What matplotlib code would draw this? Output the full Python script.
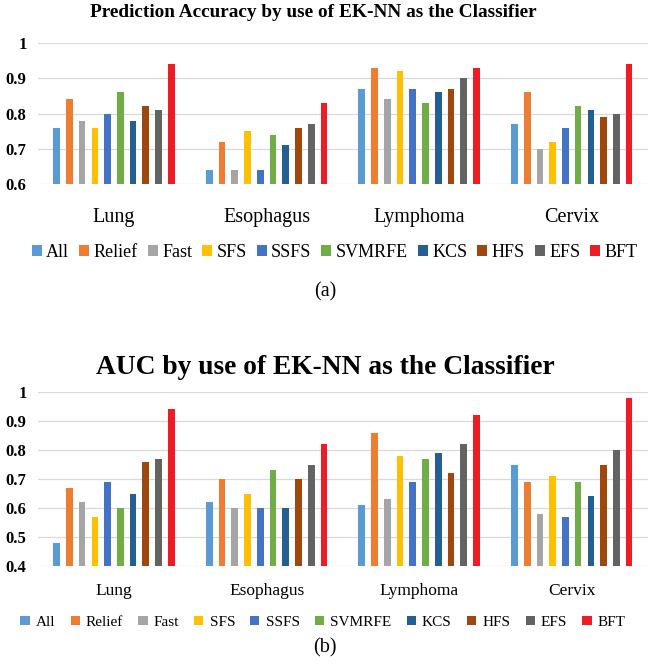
import numpy as np
import matplotlib
matplotlib.use("Agg")
import matplotlib.pyplot as plt
from matplotlib.patches import Patch

plt.rcParams["font.family"] = ["Liberation Serif", "DejaVu Serif"]

# Datos
categories = ["Lung", "Esophagus", "Lymphoma", "Cervix"]
methods = ["All", "Relief", "Fast", "SFS", "SSFS", "SVMRFE", "KCS", "HFS", "EFS", "BFT"]
colors = ["#5B9BD5", "#ED7D31", "#A5A5A5", "#FFC000", "#4472C4",
          "#70AD47", "#255E91", "#9E480E", "#636363", "#EE1C25"]

# (a) Prediction accuracy, one row per category, one value per method
acc_lung = [0.76, 0.84, 0.78, 0.76, 0.80, 0.86, 0.78, 0.82, 0.81, 0.94]
acc_esophagus = [0.64, 0.72, 0.64, 0.75, 0.64, 0.74, 0.71, 0.76, 0.77, 0.83]
acc_lymphoma = [0.87, 0.93, 0.84, 0.92, 0.87, 0.83, 0.86, 0.87, 0.90, 0.93]
acc_cervix = [0.77, 0.86, 0.70, 0.72, 0.76, 0.82, 0.81, 0.79, 0.80, 0.94]

# (b) AUC
auc_lung = [0.48, 0.67, 0.62, 0.57, 0.69, 0.60, 0.65, 0.76, 0.77, 0.94]
auc_esophagus = [0.62, 0.70, 0.60, 0.65, 0.60, 0.73, 0.60, 0.70, 0.75, 0.82]
auc_lymphoma = [0.61, 0.86, 0.63, 0.78, 0.69, 0.77, 0.79, 0.72, 0.82, 0.92]
auc_cervix = [0.75, 0.69, 0.58, 0.71, 0.57, 0.69, 0.64, 0.75, 0.80, 0.98]

acc_ticks = [0.6, 0.7, 0.8, 0.9, 1.0]
acc_labels = ["0.6", "0.7", "0.8", "0.9", "1"]
auc_ticks = [0.4, 0.5, 0.6, 0.7, 0.8, 0.9, 1.0]
auc_labels = ["0.4", "0.5", "0.6", "0.7", "0.8", "0.9", "1"]


def draw_panel(ax, data, ymin, ticks, tick_labels, cat_size, cat_pad):
    """Dibuja un panel de barras agrupadas estilo Excel."""
    data = np.array(data)
    x = np.arange(len(categories))
    pitch = 0.0835
    width = 0.044
    for j, (name, color) in enumerate(zip(methods, colors)):
        pos = x + (j - 4.5) * pitch
        vals = data[:, j]
        ax.bar(pos, vals - ymin, width, bottom=ymin, color=color, zorder=3)

    ax.set_xlim(-0.5, len(categories) - 0.5)
    ax.set_ylim(ymin, 1.0)
    ax.set_yticks(ticks)
    ax.set_yticklabels(tick_labels, fontweight="bold", fontsize=12)
    ax.set_xticks(x)
    ax.set_xticklabels(categories, fontsize=cat_size)
    ax.tick_params(axis="x", length=0, pad=cat_pad)
    ax.tick_params(axis="y", length=0, pad=8)
    for s in ax.spines.values():
        s.set_visible(False)
    ax.grid(axis="y", color="#D9D9D9", linewidth=0.9, zorder=0)
    ax.set_axisbelow(True)


fig = plt.figure(figsize=(6.5, 6.64), dpi=100)

# Panel (a)
ax1 = fig.add_axes([0.058, 0.7229, 0.939, 0.2123])
draw_panel(ax1, [acc_lung, acc_esophagus, acc_lymphoma, acc_cervix],
           0.6, acc_ticks, acc_labels, 14.5, 17)
fig.text(0.482, 0.981, "Prediction Accuracy by use of EK-NN as the Classifier",
         ha="center", va="center", fontsize=13.9, fontweight="bold")

# Panel (b)
ax2 = fig.add_axes([0.058, 0.1476, 0.939, 0.262])
draw_panel(ax2, [auc_lung, auc_esophagus, auc_lymphoma, auc_cervix],
           0.4, auc_ticks, auc_labels, 12.5, 12)
fig.text(0.5, 0.446, "AUC by use of EK-NN as the Classifier",
         ha="center", va="center", fontsize=19.8, fontweight="bold")

# Leyendas
handles = [Patch(facecolor=c, label=m) for m, c in zip(methods, colors)]
fig.legend(handles=handles, loc="center", bbox_to_anchor=(0.515, 0.620), ncol=10,
           frameon=False, fontsize=13, handlelength=0.55, handleheight=0.55,
           handletextpad=0.25, columnspacing=0.55, borderpad=0)
fig.legend(handles=handles, loc="center", bbox_to_anchor=(0.497, 0.063), ncol=10,
           frameon=False, fontsize=11, handlelength=0.6, handleheight=0.6,
           handletextpad=0.4, columnspacing=1.0, borderpad=0)

fig.text(0.5, 0.560, "(a)", ha="center", va="center", fontsize=14.5)
fig.text(0.5, 0.024, "(b)", ha="center", va="center", fontsize=14.5)

fig.savefig("out.png", dpi=100)
